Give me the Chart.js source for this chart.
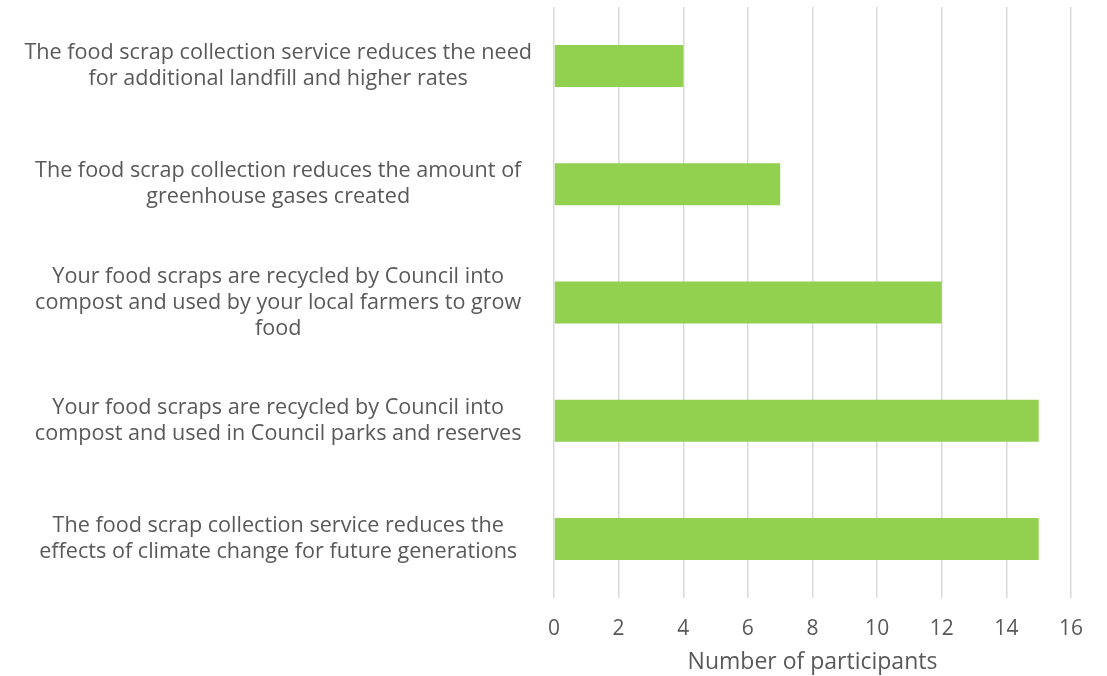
<!DOCTYPE html>
<html lang="en">
<head>
  <meta charset="UTF-8" />
  <title>Food scrap collection - reasons</title>
  <script src="https://cdn.jsdelivr.net/npm/chart.js"></script>
  <style>
    html, body { margin: 0; padding: 0; background: #fff; }
    #wrap { width: 1107px; height: 676px; position: relative; }
  </style>
</head>
<body>
  <div id="wrap"><canvas id="barChart"></canvas></div>

  <script>
    const statements = [
      ['The food scrap collection service reduces the need', 'for additional landfill and higher rates'],
      ['The food scrap collection reduces the amount of', 'greenhouse gases created'],
      ['Your food scraps are recycled by Council into', 'compost and used by your local farmers to grow', 'food'],
      ['Your food scraps are recycled by Council into', 'compost and used in Council parks and reserves'],
      ['The food scrap collection service reduces the', 'effects of climate change for future generations']
    ];
    const participants = [4, 7, 12, 15, 15];
    const xTicks = [0, 2, 4, 6, 8, 10, 12, 14, 16];

    const font = "'Open Sans', 'Liberation Sans', sans-serif";
    const textGray = '#595959';

    new Chart(document.getElementById('barChart'), {
      type: 'bar',
      data: {
        labels: statements,
        datasets: [{
          label: 'Number of participants',
          data: participants,
          backgroundColor: '#92d050',
          borderWidth: 0,
          barPercentage: 0.355,
          categoryPercentage: 1
        }]
      },
      options: {
        indexAxis: 'y',
        responsive: true,
        maintainAspectRatio: false,
        animation: false,
        layout: { padding: { left: 0, right: 36, top: 7, bottom: 0 } },
        plugins: { legend: { display: false }, tooltip: { enabled: false } },
        scales: {
          x: {
            min: xTicks[0],
            max: xTicks[xTicks.length - 1],
            afterBuildTicks: s => { s.ticks = xTicks.map(v => ({ value: v })); },
            grid: { color: '#d9d9d9', lineWidth: 1.5, tickLength: 0 },
            border: { display: false },
            ticks: { color: textGray, font: { family: font, size: 21 }, padding: 18 },
            title: {
              display: true,
              text: 'Number of participants',
              color: textGray,
              font: { family: font, size: 23 },
              padding: { top: 2, bottom: 0 }
            },
            afterFit: s => { s.height = 78; s.paddingLeft = 0; s.paddingRight = 0; }
          },
          y: {
            grid: { display: false },
            border: { display: false },
            ticks: {
              color: textGray,
              font: { family: font, size: 21.6, lineHeight: 1.2 },
              padding: 14,
              crossAlign: 'center'
            },
            afterFit: s => { s.width = 554; s.paddingTop = 0; s.paddingBottom = 0; }
          }
        }
      }
    });
  </script>
</body>
</html>
